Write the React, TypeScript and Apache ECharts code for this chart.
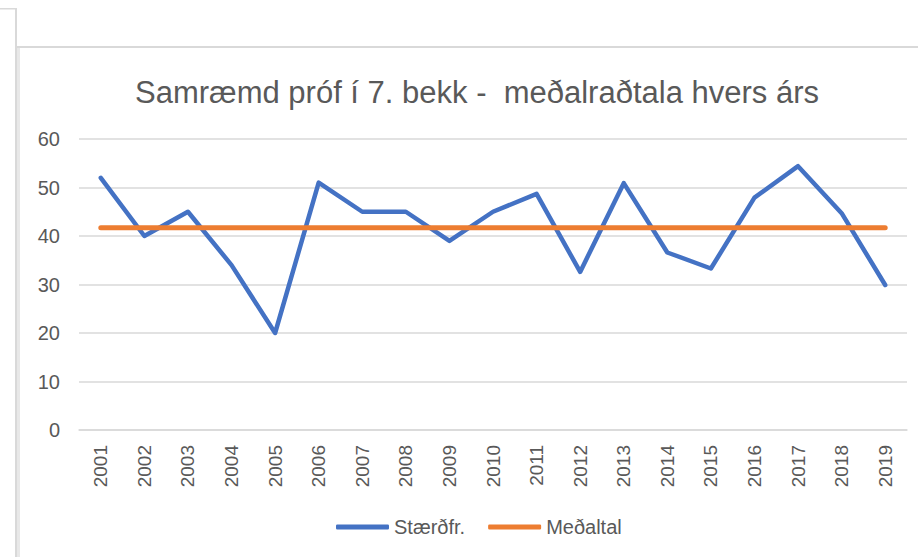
import React, { useEffect, useRef } from "react";
import * as echarts from "echarts";

const years = ["2001","2002","2003","2004","2005","2006","2007","2008","2009","2010","2011","2012","2013","2014","2015","2016","2017","2018","2019"];
const staerdfr = [52.0, 40.0, 45.0, 34.0, 20.0, 51.0, 45.0, 45.0, 39.0, 45.0, 48.7, 32.6, 50.9, 36.6, 33.3, 47.9, 54.4, 44.7, 29.9];
const medaltal = [41.7, 41.7, 41.7, 41.7, 41.7, 41.7, 41.7, 41.7, 41.7, 41.7, 41.7, 41.7, 41.7, 41.7, 41.7, 41.7, 41.7, 41.7, 41.7];
const titleText = "Samræmd próf í 7. bekk -  meðalraðtala hvers árs";

const FONT = "'Liberation Sans', Arial, sans-serif";
const TXT = "#595959";

export default function App() {
  const ref = useRef<HTMLDivElement>(null);
  useEffect(() => {
    if (!ref.current) return;
    const chart = echarts.init(ref.current, undefined, { renderer: "svg" });
    chart.setOption({
      animation: false,
      backgroundColor: "#ffffff",
      textStyle: { fontFamily: FONT },
      graphic: [
        { type: "rect", shape: { x: 0, y: 8, width: 16, height: 1.5 }, style: { fill: "#d9d9d9" }, silent: true },
        { type: "rect", shape: { x: 15, y: 8, width: 2, height: 549 }, style: { fill: "#d9d9d9" }, silent: true },
        { type: "rect", shape: { x: 17, y: 47, width: 3, height: 510 }, style: { fill: "#e8e8e8" }, silent: true },
        { type: "rect", shape: { x: 17, y: 46, width: 901, height: 2 }, style: { fill: "#d9d9d9" }, silent: true },
        {
          type: "text",
          x: 477,
          y: 92,
          style: {
            text: titleText,
            fill: TXT,
            font: `31px ${FONT}`,
            textAlign: "center",
            textVerticalAlign: "middle",
          },
        },
      ],
      grid: { left: 79, right: 11, top: 139, bottom: 127, containLabel: false },
      legend: {
        data: [
          { name: "Stærðfr.", icon: "roundRect" },
          { name: "Meðaltal", icon: "roundRect" },
        ],
        left: 336,
        top: 517,
        padding: 0,
        itemWidth: 53,
        itemHeight: 5,
        itemGap: 23,
        textStyle: { color: TXT, fontSize: 20, fontFamily: FONT },
      },
      xAxis: {
        type: "category",
        data: years,
        boundaryGap: true,
        axisLine: { show: true, lineStyle: { color: "#d9d9d9", width: 1.5 } },
        axisTick: { show: false },
        axisLabel: { rotate: 90, color: TXT, fontSize: 19, margin: 15, fontFamily: FONT },
      },
      yAxis: {
        type: "value",
        min: 0,
        max: 60,
        interval: 10,
        axisLine: { show: false },
        axisTick: { show: false },
        axisLabel: { color: TXT, fontSize: 20, margin: 19, fontFamily: FONT },
        splitLine: { lineStyle: { color: "#d9d9d9", width: 1.5 } },
      },
      series: [
        {
          name: "Stærðfr.",
          type: "line",
          data: staerdfr,
          showSymbol: false,
          symbol: "none",
          lineStyle: { color: "#4472C4", width: 4.5, cap: "round", join: "round" },
          itemStyle: { color: "#4472C4" },
          z: 2,
        },
        {
          name: "Meðaltal",
          type: "line",
          data: medaltal,
          showSymbol: false,
          symbol: "none",
          lineStyle: { color: "#ED7D31", width: 5, cap: "round", join: "round" },
          itemStyle: { color: "#ED7D31" },
          z: 3,
        },
      ],
    });
    return () => chart.dispose();
  }, []);
  return (
    <div
      ref={ref}
      style={{ position: "fixed", left: 0, top: 0, width: 918, height: 557 }}
    />
  );
}
